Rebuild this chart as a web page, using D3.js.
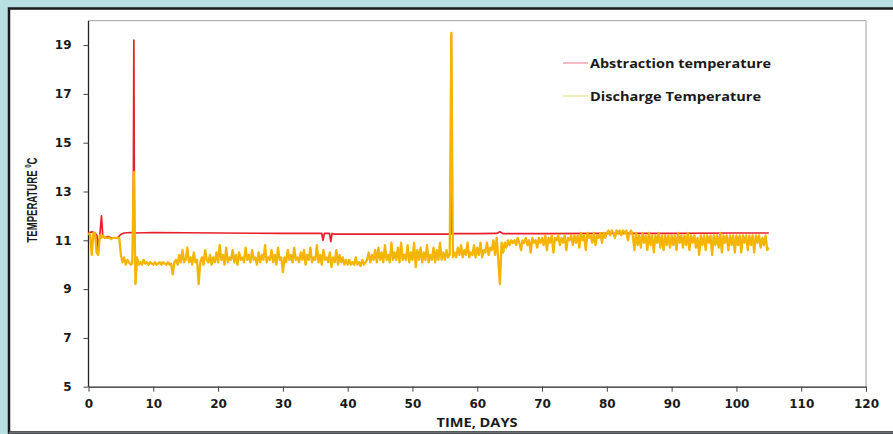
<!DOCTYPE html>
<html>
<head>
<meta charset="utf-8">
<script src="https://cdn.jsdelivr.net/npm/d3@7"></script>
<style>
  html, body { margin: 0; padding: 0; background: #b9dfe3; }
  svg { display: block; }
</style>
</head>
<body>
<svg id="chart" width="893" height="434"></svg>
<script>
// Logger interval for the discharge probe (days between readings)
const sampleStep = 0.25;

// Discharge temperature readings (°C), one every sampleStep days from day 0
const dischargeTemp = [
  // days 0-5
  11.3, 11.2, 10.4, 11.3, 11.3, 10.5, 10.4, 11.2, 11.1, 11.2, 11.1, 11.1, 11.1, 11.1, 11.05, 11.1, 11.1, 11.1, 11.1, 11.1,
  // days 5-10
  10.4, 10.1, 10.3, 10.0, 10.2, 10.1, 10.0, 10.05, 13.8, 9.2, 10.3, 10.0, 10.1, 10.0, 10.2, 10.05, 10.1, 10.0, 10.1, 10.05,
  // days 10-15
  10.0, 10.1, 10.0, 10.05, 10.1, 10.0, 10.1, 10.05, 10.0, 10.1, 10.0, 10.05, 9.6, 10.1, 10.2, 10.0, 10.4, 10.1, 10.6, 10.1,
  // days 15-20
  10.2, 10.7, 10.1, 10.3, 10.0, 10.5, 10.1, 10.2, 9.2, 10.1, 10.3, 10.0, 10.6, 10.2, 10.1, 10.4, 10.0, 10.3, 10.1, 10.5,
  // days 20-25
  10.1, 10.8, 10.2, 10.4, 10.0, 10.7, 10.1, 10.3, 10.2, 10.6, 10.1, 10.4, 10.0, 10.5, 10.2, 10.3, 10.1, 10.7, 10.2, 10.4,
  // days 25-30
  10.1, 10.6, 10.2, 10.3, 10.0, 10.5, 10.1, 10.4, 10.2, 10.8, 10.1, 10.3, 10.2, 10.6, 10.1, 10.4, 10.0, 10.7, 10.2, 10.3,
  // days 30-35
  9.7, 10.3, 10.1, 10.6, 10.2, 10.4, 10.1, 10.7, 10.2, 10.3, 10.1, 10.5, 10.2, 10.6, 10.0, 10.4, 10.2, 10.7, 10.1, 10.3,
  // days 35-40
  10.2, 10.8, 10.1, 10.4, 10.0, 10.6, 10.2, 10.3, 10.1, 10.5, 9.9, 10.3, 10.1, 10.6, 10.0, 10.4, 10.1, 10.3, 10.0, 10.2,
  // days 40-45
  10.0, 10.2, 10.0, 10.1, 10.0, 10.3, 10.0, 10.1, 9.95, 10.2, 10.0, 10.1, 10.2, 10.5, 10.1, 10.4, 10.2, 10.6, 10.1, 10.7,
  // days 45-50
  10.2, 10.5, 10.1, 10.8, 10.2, 10.4, 10.1, 10.9, 10.2, 10.5, 10.2, 10.7, 10.1, 10.9, 10.2, 10.4, 10.2, 10.8, 10.1, 10.5,
  // days 50-55
  10.2, 10.9, 9.9, 10.6, 10.2, 10.7, 10.1, 10.5, 10.2, 10.8, 10.1, 10.4, 10.2, 10.7, 10.1, 10.6, 10.2, 10.9, 10.2, 10.5,
  // days 55-60
  10.2, 10.6, 10.3, 10.4, 19.5, 10.3, 10.5, 10.3, 10.7, 10.4, 10.8, 10.3, 10.6, 10.4, 10.9, 10.3, 10.5, 10.4, 10.8, 10.3,
  // days 60-65
  10.7, 10.4, 10.9, 10.3, 10.6, 10.5, 10.9, 10.4, 10.7, 10.6, 11.0, 10.4, 11.1, 10.2, 9.2, 10.9, 10.5, 10.9, 10.7, 11.0,
  // days 65-70
  10.8, 11.0, 10.9, 11.0, 10.8, 11.1, 10.9, 10.6, 11.0, 10.9, 11.1, 10.8, 11.0, 10.5, 11.1, 10.9, 11.0, 10.7, 11.1, 10.9,
  // days 70-75
  11.1, 10.8, 11.2, 10.6, 11.1, 10.9, 11.2, 10.5, 11.1, 11.0, 11.2, 10.8, 11.1, 10.9, 11.2, 10.6, 11.1, 11.0, 11.2, 10.8,
  // days 75-80
  11.2, 10.9, 11.2, 10.7, 11.3, 11.0, 11.2, 10.6, 11.3, 11.1, 11.2, 10.9, 11.3, 10.8, 11.2, 11.1, 11.3, 10.9, 11.3, 11.1,
  // days 80-85
  11.3, 11.4, 11.2, 11.4, 11.3, 11.1, 11.4, 11.3, 11.4, 11.2, 11.4, 11.3, 11.4, 11.0, 11.3, 11.4, 11.2, 10.6, 11.3, 10.8,
  // days 85-90
  11.2, 10.7, 11.3, 10.9, 11.2, 10.6, 11.3, 10.8, 11.2, 10.5, 11.2, 10.9, 11.3, 10.7, 11.2, 10.6, 11.2, 10.8, 11.2, 10.7,
  // days 90-95
  11.2, 10.8, 11.2, 10.6, 11.3, 10.9, 11.2, 10.7, 11.2, 10.8, 11.3, 10.6, 11.2, 10.9, 11.2, 10.7, 11.1, 10.4, 11.2, 10.8,
  // days 95-100
  11.2, 10.6, 11.2, 10.9, 11.2, 10.4, 11.2, 10.8, 11.2, 10.7, 11.3, 10.5, 11.2, 10.9, 11.2, 10.6, 11.2, 10.8, 11.2, 10.5,
  // days 100-105
  11.2, 10.8, 11.2, 10.5, 11.2, 10.9, 11.2, 10.6, 11.2, 10.8, 11.2, 10.5, 11.2, 10.9, 11.2, 10.7, 11.1, 10.8, 11.2, 10.6,
  10.7
];

// Abstraction temperature readings as [day, °C]
const abstractionTemp = [
  [0, 11.3], [0.5, 11.35], [1.0, 11.3], [1.3, 11.2], [1.5, 10.6], [1.75, 11.2], [2.0, 12.0], [2.2, 11.2],
  [2.5, 11.1], [3.0, 11.15], [3.5, 11.1], [4.0, 11.1], [4.5, 11.1], [5.0, 11.25], [5.5, 11.3], [6.5, 11.32],
  [6.9, 11.3], [7.0, 19.2], [7.1, 11.3], [10, 11.32], [20, 11.3], [30, 11.28], [36, 11.28], [36.2, 11.0],
  [36.4, 11.28], [37.2, 11.28], [37.4, 10.95], [37.6, 11.28], [38, 11.25], [45, 11.25], [50, 11.25],
  [55.9, 11.25], [56.0, 19.4], [56.1, 11.27], [60, 11.27], [63, 11.28], [63.5, 11.35], [64, 11.27],
  [70, 11.27], [80, 11.28], [90, 11.28], [100, 11.3], [105, 11.3]
];

const xTicks = [0, 10, 20, 30, 40, 50, 60, 70, 80, 90, 100, 110, 120];
const yTicks = [5, 7, 9, 11, 13, 15, 17, 19];

const seriesNames = ["Abstraction temperature", "Discharge Temperature"];

const svg = d3.select("#chart");

// Framed white panel
svg.append("rect").attr("x", 0).attr("y", 0).attr("width", 893).attr("height", 434).attr("fill", "#b9dfe3");
svg.append("rect").attr("x", 9).attr("y", 8.5).attr("width", 890).attr("height", 424)
  .attr("fill", "#ffffff").attr("stroke", "#1a1a1a").attr("stroke-width", 2.5);
svg.append("line").attr("x1", 9).attr("x2", 893).attr("y1", 432.5).attr("y2", 432.5)
  .attr("stroke", "#6e6e6e").attr("stroke-width", 1.5);

const plot = { left: 88.5, right: 866, top: 20.7, bottom: 386.7 };

const x = d3.scaleLinear().domain([0, 120]).range([plot.left, plot.right]);
const y = d3.scaleLinear().domain([5, 20]).range([plot.bottom, plot.top]);

// Plot box: grey top/right edges
svg.append("line").attr("x1", plot.left).attr("x2", plot.right).attr("y1", plot.top).attr("y2", plot.top)
  .attr("stroke", "#a0a0a0").attr("stroke-width", 1);
svg.append("line").attr("x1", plot.right).attr("x2", plot.right).attr("y1", plot.top).attr("y2", plot.bottom)
  .attr("stroke", "#a0a0a0").attr("stroke-width", 1);

// Axes
const xAxis = d3.axisBottom(x).tickValues(xTicks).tickSize(5).tickSizeOuter(0).tickPadding(8);
const yAxis = d3.axisLeft(y).tickValues(yTicks).tickSize(5).tickSizeOuter(0).tickPadding(12);

const gx = svg.append("g").attr("transform", `translate(0,${plot.bottom})`).call(xAxis);
const gy = svg.append("g").attr("transform", `translate(${plot.left},0)`).call(yAxis);

gy.select(".domain").attr("d", `M0,${plot.top}V${plot.bottom}`);

[gx, gy].forEach(g => {
  g.select(".domain").attr("stroke", "#222").attr("stroke-width", 1.3);
  g.selectAll(".tick line").attr("stroke", "#444").attr("stroke-width", 1);
  g.selectAll(".tick text")
    .attr("fill", "#1a1a1a")
    .style("font-family", "'DejaVu Sans', Verdana, sans-serif")
    .style("font-weight", "bold")
    .style("font-size", "12px");
});

// Series lines
const line = d3.line().x(d => x(d[0])).y(d => y(d[1]));

const dischargePts = dischargeTemp.map((v, i) => [i * sampleStep, v]);

svg.append("path")
  .datum(abstractionTemp)
  .attr("d", line)
  .attr("fill", "none")
  .attr("stroke", "#e8202b")
  .attr("stroke-width", 1.7)
  .attr("stroke-linejoin", "round");

svg.append("path")
  .datum(dischargePts)
  .attr("d", line)
  .attr("fill", "none")
  .attr("stroke", "#f5b400")
  .attr("stroke-width", 2.3)
  .attr("stroke-linejoin", "round");

// Axis titles
svg.append("text")
  .attr("x", 477).attr("y", 427)
  .attr("text-anchor", "middle")
  .attr("textLength", 81)
  .attr("lengthAdjust", "spacingAndGlyphs")
  .style("font-family", "'Open Sans', sans-serif")
  .style("font-weight", "bold")
  .style("font-size", "12.5px")
  .attr("fill", "#1a1a1a")
  .text("TIME, DAYS");

const yTitle = svg.append("text")
  .attr("transform", "translate(36.5,200) rotate(-90)")
  .attr("text-anchor", "middle")
  .attr("textLength", 85)
  .attr("lengthAdjust", "spacingAndGlyphs")
  .style("font-family", "'Liberation Sans Narrow', 'Arial Narrow', 'Liberation Sans', sans-serif")
  .style("font-weight", "bold")
  .style("font-size", "14px")
  .attr("fill", "#1a1a1a");
yTitle.append("tspan").text("TEMPERATURE ");
yTitle.append("tspan").attr("dy", -6).style("font-size", "9px").text("0");
yTitle.append("tspan").attr("dy", 6).text("C");

// Legend
const legendColors = ["#f08aa0", "#dfe48c"];
const legendWidths = [181, 171];
const legend = svg.append("g").attr("transform", "translate(563,63)");
seriesNames.forEach((name, i) => {
  const g = legend.append("g").attr("transform", `translate(0,${i * 33})`);
  g.append("line").attr("x1", 0).attr("x2", 25).attr("y1", 0).attr("y2", 0)
    .attr("stroke", legendColors[i]).attr("stroke-width", 1.2);
  g.append("text").attr("x", 27).attr("y", 0).attr("dy", "0.35em")
    .attr("textLength", legendWidths[i])
    .attr("lengthAdjust", "spacingAndGlyphs")
    .style("font-family", "'Open Sans', sans-serif")
    .style("font-weight", "bold")
    .style("font-size", "13px")
    .attr("fill", "#1a1a1a")
    .text(name);
});
</script>
</body>
</html>
